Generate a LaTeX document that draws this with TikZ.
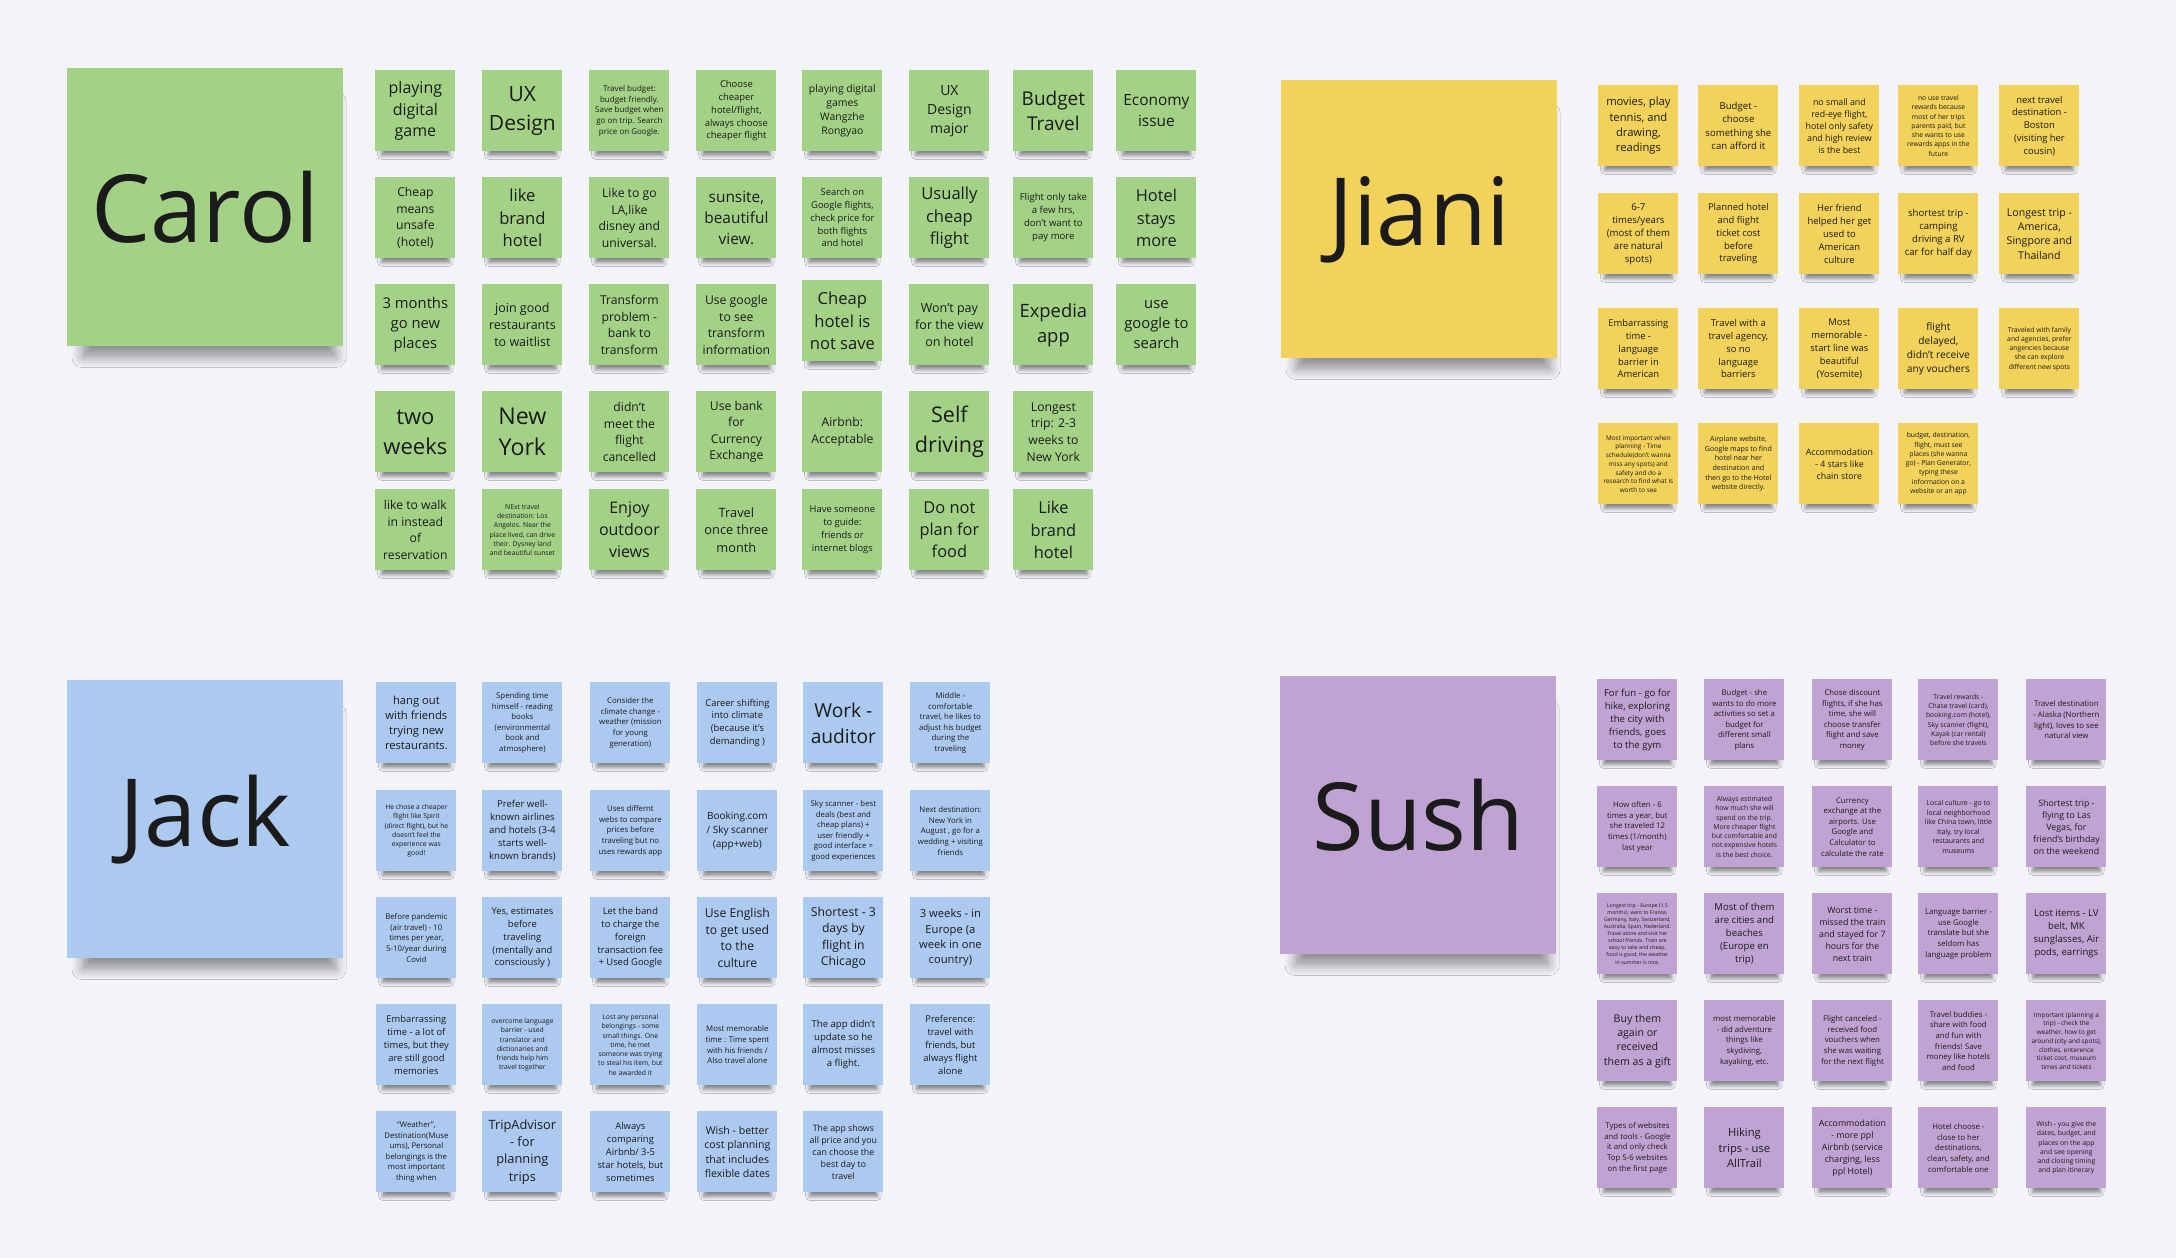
\documentclass[tikz,border=0pt]{standalone}
\usepackage{fontspec}
\setmainfont{Open Sans}
\usetikzlibrary{shadows.blur}
\definecolor{bgc}{HTML}{F3F4F8}
\definecolor{cgreen}{HTML}{A3D287}
\definecolor{cyellow}{HTML}{F2D25A}
\definecolor{cblue}{HTML}{ACC9F0}
\definecolor{cpurple}{HTML}{C1A3D3}
\definecolor{ink}{HTML}{1B1B1B}
\newcommand\fz[1]{\fontsize{#1pt}{\dimexpr #1pt*136/100\relax}\selectfont}
\tikzset{
  note/.style={fill=#1, minimum width=40pt, minimum height=40.5pt, inner sep=1pt,
    align=center, anchor=north west, text=ink,
    blur shadow={shadow xshift=0pt, shadow yshift=-6pt, shadow scale=0.85,
      shadow opacity=45, shadow blur radius=2.2pt, shadow blur steps=5}},
  bignote/.style={fill=#1, minimum width=138pt, minimum height=139pt, inner sep=1pt,
    align=center, anchor=north west, text=ink, font=\fz{47},
    blur shadow={shadow xshift=2pt, shadow yshift=-12pt, shadow scale=0.92,
      shadow opacity=40, shadow blur radius=5.5pt, shadow blur steps=7}},
  G/.style={note=cgreen}, Y/.style={note=cyellow}, B/.style={note=cblue}, P/.style={note=cpurple}
}
\begin{document}
\begin{tikzpicture}[x=0.5pt,y=-0.5pt]
\fill[bgc] (0,0) rectangle (2176,1258);
\useasboundingbox (0,0) rectangle (2176,1258);
% ---- big name notes
\node[bignote=cgreen] (carol) at (67,68) {Carol};
\node[bignote=cyellow] (jiani) at (1281,80) {Jiani};
\node[bignote=cblue] (jack) at (67,680) {Jack};
\node[bignote=cpurple] (sush) at (1280,676) {Sush};
% ---- Carol
\node[G,font=\fz{8}] (c11) at (375,70) {playing\\digital\\game};
\node[G,font=\fz{10.5}] (c12) at (482,70) {UX\\Design};
\node[G,font=\fz{4}] (c13) at (589,70) {Travel budget:\\budget friendly.\\Save budget when\\go on trip. Search\\price on Google.};
\node[G,font=\fz{4.7}] (c14) at (696,70) {Choose\\cheaper\\hotel/flight,\\always choose\\cheaper flight};
\node[G,font=\fz{5.2}] (c15) at (802,70) {playing digital\\games\\Wangzhe\\Rongyao};
\node[G,font=\fz{7}] (c16) at (909,70) {UX\\Design\\major};
\node[G,font=\fz{9.5}] (c17) at (1013,70) {Budget\\Travel};
\node[G,font=\fz{7.7}] (c18) at (1116,70) {Economy\\issue};
\node[G,font=\fz{6.1}] (c21) at (375,177) {Cheap\\means\\unsafe\\(hotel)};
\node[G,font=\fz{8.3}] (c22) at (482,177) {like\\brand\\hotel};
\node[G,font=\fz{6.1}] (c23) at (589,177) {Like to go\\LA,like\\disney and\\universal.};
\node[G,font=\fz{7.7}] (c24) at (696,177) {sunsite,\\beautiful\\view.};
\node[G,font=\fz{4.7}] (c25) at (802,177) {Search on\\Google flights,\\check price for\\both flights\\and hotel};
\node[G,font=\fz{8.3}] (c26) at (909,177) {Usually\\cheap\\flight};
\node[G,font=\fz{4.8}] (c27) at (1013,177) {Flight only take\\a few hrs,\\don't want to\\pay more};
\node[G,font=\fz{8.2}] (c28) at (1116,177) {Hotel\\stays\\more};
\node[G,font=\fz{7.4}] (c31) at (375,284) {3 months\\go new\\places};
\node[G,font=\fz{6.25}] (c32) at (482,284) {join good\\restaurants\\to waitlist};
\node[G,font=\fz{6.1}] (c33) at (589,284) {Transform\\problem -\\bank to\\transform};
\node[G,font=\fz{6.1}] (c34) at (696,284) {Use google\\to see\\transform\\information};
\node[G,font=\fz{8.3}] (c35) at (802,280) {Cheap\\hotel is\\not save};
\node[G,font=\fz{6.25}] (c36) at (909,284) {Won't pay\\for the view\\on hotel};
\node[G,font=\fz{9.2}] (c37) at (1013,284) {Expedia\\app};
\node[G,font=\fz{7.4}] (c38) at (1116,284) {use\\google to\\search};
\node[G,font=\fz{11}] (c41) at (375,391) {two\\weeks};
\node[G,font=\fz{11.6}] (c42) at (482,391) {New\\York};
\node[G,font=\fz{6.1}] (c43) at (589,391) {didn\char96 t\\meet the\\flight\\cancelled};
\node[G,font=\fz{6.1}] (c44) at (696,391) {Use bank\\for\\Currency\\Exchange};
\node[G,font=\fz{6.1}] (c45) at (802,391) {Airbnb:\\Acceptable};
\node[G,font=\fz{10.8}] (c46) at (909,391) {Self\\driving};
\node[G,font=\fz{6.1}] (c47) at (1013,391) {Longest\\trip: 2-3\\weeks to\\New York};
\node[G,font=\fz{6.1}] (c51) at (375,489) {like to walk\\in instead\\of\\reservation};
\node[G,font=\fz{3.4}] (c52) at (482,489) {NExt travel\\destination: Los\\Angelos. Near the\\place lived, can drive\\their. Dysney land\\and beautiful sunset};
\node[G,font=\fz{8}] (c53) at (589,489) {Enjoy\\outdoor\\views};
\node[G,font=\fz{6.4}] (c54) at (696,489) {Travel\\once three\\month};
\node[G,font=\fz{4.7}] (c55) at (802,489) {Have someone\\to guide:\\friends or\\internet blogs};
\node[G,font=\fz{8.2}] (c56) at (909,489) {Do not\\plan for\\food};
\node[G,font=\fz{8.2}] (c57) at (1013,489) {Like\\brand\\hotel};
% ---- Jiani
\node[Y,font=\fz{5.6}] (j11) at (1598,85) {movies, play\\tennis, and\\drawing,\\readings};
\node[Y,font=\fz{4.8}] (j12) at (1698,85) {Budget -\\choose\\something she\\can afford it};
\node[Y,font=\fz{4.4}] (j13) at (1799,85) {no small and\\red-eye flight,\\hotel only safety\\and high review\\is the best};
\node[Y,font=\fz{3.4}] (j14) at (1898,85) {no use travel\\rewards because\\most of her trips\\parents paid, but\\she wants to use\\rewards apps in the\\future};
\node[Y,font=\fz{4.7}] (j15) at (1999,85) {next travel\\destination -\\Boston\\(visiting her\\cousin)};
\node[Y,font=\fz{4.8}] (j21) at (1598,193) {6-7\\times/years\\(most of them\\are natural\\spots)};
\node[Y,font=\fz{4.7}] (j22) at (1698,193) {Planned hotel\\and flight\\ticket cost\\before\\traveling};
\node[Y,font=\fz{4.7}] (j23) at (1799,193) {Her friend\\helped her get\\used to\\American\\culture};
\node[Y,font=\fz{4.8}] (j24) at (1898,193) {shortest trip -\\camping\\driving a RV\\car for half day};
\node[Y,font=\fz{5.3}] (j25) at (1999,193) {Longest trip -\\America,\\Singpore and\\Thailand};
\node[Y,font=\fz{4.7}] (j31) at (1598,308) {Embarrassing\\time -\\language\\barrier in\\American};
\node[Y,font=\fz{4.7}] (j32) at (1698,308) {Travel with a\\travel agency,\\so no\\language\\barriers};
\node[Y,font=\fz{4.7}] (j33) at (1799,308) {Most\\memorable -\\start line was\\beautiful\\(Yosemite)};
\node[Y,font=\fz{5.1}] (j34) at (1898,308) {flight\\delayed,\\didn't receive\\any vouchers};
\node[Y,font=\fz{3.4}] (j35) at (1999,308) {Traveled with family\\and agencies, prefer\\angencies because\\she can explore\\different new spots};
\node[Y,font=\fz{3.2}] (j41) at (1598,423) {Most important when\\planning - Time\\schedule(don't wanna\\miss any spots) and\\safety and do a\\research to find what is\\worth to see};
\node[Y,font=\fz{3.55}] (j42) at (1698,423) {Airplane website,\\Google maps to find\\hotel near her\\destination and\\then go to the Hotel\\website directly.};
\node[Y,font=\fz{4.4}] (j43) at (1799,423) {Accommodation\\- 4 stars like\\chain store};
\node[Y,font=\fz{3.4}] (j44) at (1898,423) {budget, destination,\\flight, must see\\places (she wanna\\go) - Plan Generator,\\typing these\\information on a\\website or an app};
% ---- Jack
\node[B,font=\fz{5.6}] (k11) at (376,682) {hang out\\with friends\\trying new\\restaurants.};
\node[B,font=\fz{3.9}] (k12) at (482,682) {Spending time\\himself - reading\\books\\(environmental\\book and\\atmosphere)};
\node[B,font=\fz{3.9}] (k13) at (590,682) {Consider the\\climate change -\\weather (mission\\for young\\generation)};
\node[B,font=\fz{4.7}] (k14) at (697,682) {Career shifting\\into climate\\(because it's\\demanding )};
\node[B,font=\fz{9.6}] (k15) at (803,682) {Work -\\auditor};
\node[B,font=\fz{3.9}] (k16) at (910,682) {Middle -\\comfortable\\travel, he likes to\\adjust his budget\\during the\\traveling};
\node[B,font=\fz{3.4}] (k21) at (376,790) {He chose a cheaper\\flight like Spirit\\(direct flight), but he\\doesn't feel the\\experience was\\good!};
\node[B,font=\fz{4.8}] (k22) at (482,790) {Prefer well-\\known airlines\\and hotels (3-4\\starts well-\\known brands)};
\node[B,font=\fz{3.9}] (k23) at (590,790) {Uses differnt\\webs to compare\\prices before\\traveling but no\\uses rewards app};
\node[B,font=\fz{5}] (k24) at (697,790) {Booking.com\\/ Sky scanner\\(app+web)};
\node[B,font=\fz{3.9}] (k25) at (803,790) {Sky scanner - best\\deals (best and\\cheap plans) +\\user friendly +\\good interface =\\good experiences};
\node[B,font=\fz{3.9}] (k26) at (910,790) {Next destination:\\New York in\\August , go for a\\wedding + visiting\\friends};
\node[B,font=\fz{3.9}] (k31) at (376,897) {Before pandemic\\(air travel) - 10\\times per year,\\5-10/year during\\Covid};
\node[B,font=\fz{4.7}] (k32) at (482,897) {Yes, estimates\\before\\traveling\\(mentally and\\consciously )};
\node[B,font=\fz{4.7}] (k33) at (590,897) {Let the band\\to charge the\\foreign\\transaction fee\\+ Used Google};
\node[B,font=\fz{6.1}] (k34) at (697,897) {Use English\\to get used\\to the\\culture};
\node[B,font=\fz{6.1}] (k35) at (803,897) {Shortest - 3\\days by\\flight in\\Chicago};
\node[B,font=\fz{5.6}] (k36) at (910,897) {3 weeks - in\\Europe (a\\week in one\\country)};
\node[B,font=\fz{4.7}] (k41) at (376,1004) {Embarrassing\\time - a lot of\\times, but they\\are still good\\memories};
\node[B,font=\fz{3.4}] (k42) at (482,1004) {overcome language\\barrier - used\\translator and\\dictionaries and\\friends help him\\travel together};
\node[B,font=\fz{3.4}] (k43) at (590,1004) {Lost any personal\\belongings - some\\small things. One\\time, he met\\someone was trying\\to steal his item, but\\he awarded it};
\node[B,font=\fz{3.9}] (k44) at (697,1004) {Most memorable\\time : Time spent\\with his friends /\\Also travel alone};
\node[B,font=\fz{4.8}] (k45) at (803,1004) {The app didn't\\update so he\\almost misses\\a flight.};
\node[B,font=\fz{4.7}] (k46) at (910,1004) {Preference:\\travel with\\friends, but\\always flight\\alone};
\node[B,font=\fz{3.9}] (k51) at (376,1111) {``Weather'',\\Destination(Muse\\ums), Personal\\belongings is the\\most important\\thing when};
\node[B,font=\fz{6.4}] (k52) at (482,1111) {TripAdvisor\\- for\\planning\\trips};
\node[B,font=\fz{4.7}] (k53) at (590,1111) {Always\\comparing\\Airbnb/ 3-5\\star hotels, but\\sometimes};
\node[B,font=\fz{5.3}] (k54) at (697,1111) {Wish - better\\cost planning\\that includes\\flexible dates};
\node[B,font=\fz{4.4}] (k55) at (803,1111) {The app shows\\all price and you\\can choose the\\best day to\\travel};
% ---- Sush
\node[P,font=\fz{4.8}] (s11) at (1597,679) {For fun - go for\\hike, exploring\\the city with\\friends, goes\\to the gym};
\node[P,font=\fz{3.9}] (s12) at (1704,679) {Budget - she\\wants to do more\\activities so set a\\budget for\\different small\\plans};
\node[P,font=\fz{3.9}] (s13) at (1812,679) {Chose discount\\flights, if she has\\time, she will\\choose transfer\\flight and save\\money};
\node[P,font=\fz{3.4}] (s14) at (1918,679) {Travel rewards -\\Chase travel (card),\\booking.com (hotel),\\Sky scanner (flight),\\Kayak (car rental)\\before she travels};
\node[P,font=\fz{3.9}] (s15) at (2026,679) {Travel destination\\- Alaska (Northern\\light), loves to see\\natural view};
\node[P,font=\fz{3.9}] (s21) at (1597,786) {How often - 6\\times a year, but\\she traveled 12\\times (1/month)\\last year};
\node[P,font=\fz{3.4}] (s22) at (1704,786) {Always estimated\\how much she will\\spend on the trip.\\More cheaper flight\\but comfortable and\\not expensive hotels\\is the best choice.};
\node[P,font=\fz{3.9}] (s23) at (1812,786) {Currency\\exchange at the\\airports. Use\\Google and\\Calculator to\\calculate the rate};
\node[P,font=\fz{3.5}] (s24) at (1918,786) {Local culture - go to\\local neighborhood\\like China town, little\\Italy, try local\\restaurants and\\museums};
\node[P,font=\fz{4.4}] (s25) at (2026,786) {Shortest trip -\\flying to Las\\Vegas, for\\friend's birthday\\on the weekend};
\node[P,font=\fz{2.6}] (s31) at (1597,893) {Longest trip - Europe (1.5\\months), went to France,\\Germany, Italy, Switzerland,\\Australia, Spain, Nederland.\\Travel alone and visit her\\school friends. Train are\\easy to take and cheap,\\food is good, the weather\\in summer is nice.};
\node[P,font=\fz{4.8}] (s32) at (1704,893) {Most of them\\are cities and\\beaches\\(Europe en\\trip)};
\node[P,font=\fz{4.4}] (s33) at (1812,893) {Worst time -\\missed the train\\and stayed for 7\\hours for the\\next train};
\node[P,font=\fz{3.9}] (s34) at (1918,893) {Language barrier -\\use Google\\translate but she\\seldom has\\language problem};
\node[P,font=\fz{4.8}] (s35) at (2026,893) {Lost items - LV\\belt, MK\\sunglasses, Air\\pods, earrings};
\node[P,font=\fz{5.3}] (s41) at (1597,1000) {Buy them\\again or\\received\\them as a gift};
\node[P,font=\fz{3.9}] (s42) at (1704,1000) {most memorable\\- did adventure\\things like\\skydiving,\\kayaking, etc.};
\node[P,font=\fz{3.9}] (s43) at (1812,1000) {Flight canceled -\\received food\\vouchers when\\she was waiting\\for the next flight};
\node[P,font=\fz{3.9}] (s44) at (1918,1000) {Travel buddies -\\share with food\\and fun with\\friends! Save\\money like hotels\\and food};
\node[P,font=\fz{3.2}] (s45) at (2026,1000) {Important (planning a\\trip) - check the\\weather, how to get\\around (city and spots),\\clothes, enterence\\ticket cost, museum\\times and tickets};
\node[P,font=\fz{3.9}] (s51) at (1597,1107) {Types of websites\\and tools - Google\\it and only check\\Top 5-6 websites\\on the first page};
\node[P,font=\fz{5.6}] (s52) at (1704,1107) {Hiking\\trips - use\\AllTrail};
\node[P,font=\fz{4.4}] (s53) at (1812,1107) {Accommodation\\- more ppl\\Airbnb (service\\charging, less\\ppl Hotel)};
\node[P,font=\fz{3.9}] (s54) at (1918,1107) {Hotel choose -\\close to her\\destinations,\\clean, safety, and\\comfortable one};
\node[P,font=\fz{3.4}] (s55) at (2026,1107) {Wish - you give the\\dates, budget, and\\places on the app\\and see opening\\and closing timing\\and plan itinerary};
\end{tikzpicture}
\end{document}
